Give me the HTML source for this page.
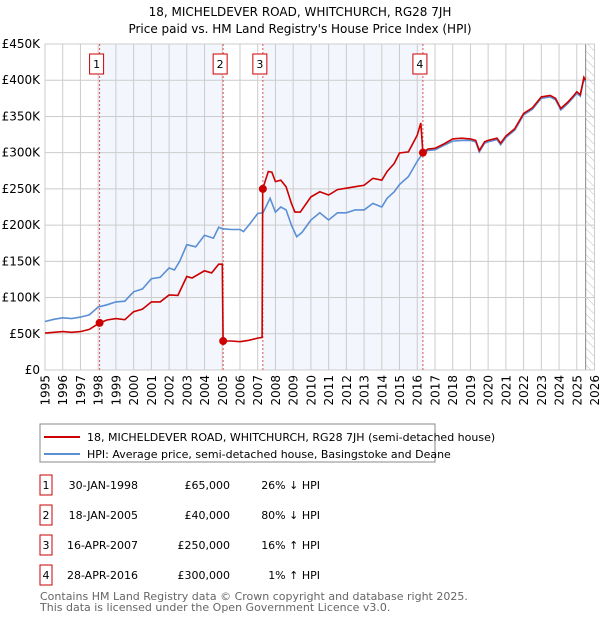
<!DOCTYPE html>
<html><head><meta charset="utf-8"><style>
body{margin:0;background:#fff;font-family:"DejaVu Sans","Liberation Sans",sans-serif;}
svg text{font-family:"DejaVu Sans","Liberation Sans",sans-serif;}
</style></head><body>
<svg id="chart" width="600" height="620" viewBox="0 0 600 620">
<defs>
<pattern id="hatch" width="6" height="6" patternUnits="userSpaceOnUse" patternTransform="rotate(-45)">
<line x1="0" y1="0" x2="0" y2="6" stroke="#bbb" stroke-width="1"/></pattern>
</defs>
<text x="300" y="16" text-anchor="middle" font-size="12">18, MICHELDEVER ROAD, WHITCHURCH, RG28 7JH</text>
<text x="300" y="33" text-anchor="middle" font-size="12">Price paid vs. HM Land Registry's House Price Index (HPI)</text>
<g id="plot"></g>
<rect x="40" y="424" width="395" height="38" fill="#fff" stroke="#888"/>
<line x1="44" y1="437" x2="80" y2="437" stroke="#cc0000" stroke-width="2"/>
<text x="87" y="441" font-size="11">18, MICHELDEVER ROAD, WHITCHURCH, RG28 7JH (semi-detached house)</text>
<line x1="44" y1="454" x2="80" y2="454" stroke="#5b8fd4" stroke-width="2"/>
<text x="87" y="458" font-size="11">HPI: Average price, semi-detached house, Basingstoke and Deane</text>
<g id="table" font-size="11"></g>
<text x="40" y="600" font-size="11" fill="#666">Contains HM Land Registry data © Crown copyright and database right 2025.</text>
<text x="40" y="611" font-size="11" fill="#666">This data is licensed under the Open Government Licence v3.0.</text>
</svg>
<script>
const hpiDates=[1995,1995.5,1996,1996.5,1997,1997.5,1998,1998.5,1999,1999.5,2000,2000.5,2001,2001.5,2002,2002.3,2002.6,2003,2003.5,2004,2004.5,2004.8,2005,2005.5,2006,2006.2,2006.6,2007,2007.3,2007.7,2008,2008.3,2008.6,2008.9,2009.2,2009.5,2010,2010.5,2011,2011.5,2012,2012.5,2013,2013.5,2014,2014.3,2014.7,2015,2015.5,2016,2016.3,2016.6,2017,2017.5,2018,2018.5,2019,2019.3,2019.5,2019.8,2020,2020.5,2020.7,2021,2021.5,2022,2022.5,2023,2023.5,2023.8,2024.1,2024.5,2024.8,2025,2025.2,2025.4,2025.5];
const hpiValues=[67,70,72,71,73,76,87,90,94,95,108,112,126,128,141,138,150,173,170,186,182,197,195,194,194,191,203,216,217,237,218,225,221,200,184,190,207,217,207,217,217,221,221,230,225,237,246,256,267,288,299,303,304,310,316,317,317,315,301,313,315,318,311,321,331,352,360,375,377,373,359,368,376,382,378,402,398];
const redDates=[1995,1995.5,1996,1996.5,1997,1997.5,1998.08,1998.5,1999,1999.5,2000,2000.5,2001,2001.5,2002,2002.5,2003,2003.3,2004,2004.4,2004.8,2005.0,2005.05,2005.5,2006,2006.5,2007,2007.25,2007.28,2007.6,2007.8,2008,2008.3,2008.6,2008.9,2009.1,2009.4,2010,2010.5,2011,2011.5,2012,2012.5,2013,2013.5,2014,2014.3,2014.7,2015,2015.5,2016,2016.2,2016.32,2016.6,2017,2017.5,2018,2018.5,2019,2019.3,2019.5,2019.8,2020,2020.5,2020.7,2021,2021.5,2022,2022.5,2023,2023.5,2023.8,2024.1,2024.5,2024.8,2025,2025.2,2025.4,2025.5];
const redValues=[51,52,53,52,53,56,65,69,71,69.5,80.5,84,94,94,103.5,103,129,127,137,134,146,146,40,40,39,41,44,45,250,274,273,260,262,253,230,218,218,239,246,241.5,249,251,253,255,264.6,262,274,285,299.5,301,324,341,300,305,306,312,319,320,319,317,303,315,317,320,313,323,333,354,362,377,379,375,361,370,378,384,380,404,400];
const saleDates=[1998.08,2005.05,2007.29,2016.32];
const salePrices=[65,40,250,300];
const saleLabels=["1","2","3","4"];
const saleDateText=["30-JAN-1998","18-JAN-2005","16-APR-2007","28-APR-2016"];
const salePriceText=["£65,000","£40,000","£250,000","£300,000"];
const saleHpiText=["26% ↓ HPI","80% ↓ HPI","16% ↑ HPI","1% ↑ HPI"];
const yTicks=[0,50,100,150,200,250,300,350,400,450];
const yTickLabels=["£0","£50K","£100K","£150K","£200K","£250K","£300K","£350K","£400K","£450K"];
const xYears=[1995,1996,1997,1998,1999,2000,2001,2002,2003,2004,2005,2006,2007,2008,2009,2010,2011,2012,2013,2014,2015,2016,2017,2018,2019,2020,2021,2022,2023,2024,2025,2026];

const X0=45,X1=594.5,Y0=370,Y1=44;
const xs=t=>X0+(t-1995)*(X1-X0)/31;
const ys=v=>Y0-v*(Y0-Y1)/450;
const NS="http://www.w3.org/2000/svg";
const plot=document.getElementById('plot');
function mk(tag,attrs,parent){const e=document.createElementNS(NS,tag);for(const k in attrs)e.setAttribute(k,attrs[k]);(parent||plot).appendChild(e);return e;}

let e;
e=mk('rect',{x:xs(saleDates[0]),y:Y1,width:xs(saleDates[1])-xs(saleDates[0]),height:Y0-Y1,fill:'#f3f6fd'});


e=mk('rect',{x:xs(saleDates[2]),y:Y1,width:xs(saleDates[3])-xs(saleDates[2]),height:Y0-Y1,fill:'#f3f6fd'});


e=mk('rect',{x:xs(2025.5),y:Y1,width:X1-xs(2025.5),height:Y0-Y1,fill:'url(#hatch)'});


mk('line',{x1:xs(2025.5),y1:Y1,x2:xs(2025.5),y2:Y0,stroke:'#888','stroke-width':1});

yTicks.forEach((v,i)=>{
 e=mk('line',{x1:X0,y1:ys(v),x2:X1,y2:ys(v),stroke:'#ccc','stroke-width':1});
 
 
 e=mk('text',{x:40,y:ys(v)+4,'text-anchor':'end','font-size':12});
 e.textContent=yTickLabels[i];
 
 
});
xYears.forEach(yr=>{
 e=mk('line',{x1:xs(yr),y1:Y1,x2:xs(yr),y2:Y0,stroke:'#ccc','stroke-width':1});
 
 
 const tx=xs(yr)+4.5;
 e=mk('text',{x:tx,y:375,'text-anchor':'end','font-size':12,transform:'rotate(-90 '+tx+' 375)'});
 e.textContent=yr;
 
 
});
mk('rect',{x:X0,y:Y1,width:X1-X0,height:Y0-Y1,fill:'none',stroke:'#ccc'});

saleDates.forEach((d,i)=>{
 e=mk('line',{x1:xs(d),y1:Y1,x2:xs(d),y2:Y0,stroke:'#e05050','stroke-width':1,'stroke-dasharray':'2,2'});
 
 
});

const pts=(ds,vs)=>ds.map((d,i)=>xs(d).toFixed(1)+','+ys(vs[i]).toFixed(1)).join(' ');
e=mk('polyline',{points:pts(hpiDates,hpiValues),fill:'none',stroke:'#5b8fd4','stroke-width':1.6});


e=mk('polyline',{points:pts(redDates,redValues),fill:'none',stroke:'#cc0000','stroke-width':1.6});



saleDates.forEach((d,i)=>{
 e=mk('circle',{cx:xs(d),cy:ys(salePrices[i]),r:4,fill:'#cc0000'});
 
 
 e=mk('rect',{x:xs(d)-10,y:54,width:14,height:20,fill:'#fff',stroke:'#cc0000'});
 
 
 e=mk('text',{x:xs(d)-3,y:68,'text-anchor':'middle','font-size':11});
 e.textContent=saleLabels[i];
 
 
});

const tbl=document.getElementById('table');
saleLabels.forEach((l,i)=>{
 const y=485+i*30;
 e=mk('rect',{x:40,y:y-10,width:12,height:20,fill:'#fff',stroke:'#cc0000'},tbl);
 
 
 e=mk('text',{x:46,y:y+4,'text-anchor':'middle'},tbl);e.textContent=l;
 
 
 e=mk('text',{x:138,y:y+4,'text-anchor':'end'},tbl);e.textContent=saleDateText[i];
 
 
 e=mk('text',{x:230,y:y+4,'text-anchor':'end'},tbl);e.textContent=salePriceText[i];
 
 
 e=mk('text',{x:320,y:y+4,'text-anchor':'end'},tbl);e.textContent=saleHpiText[i];
 
 
});
</script>
</body></html>
